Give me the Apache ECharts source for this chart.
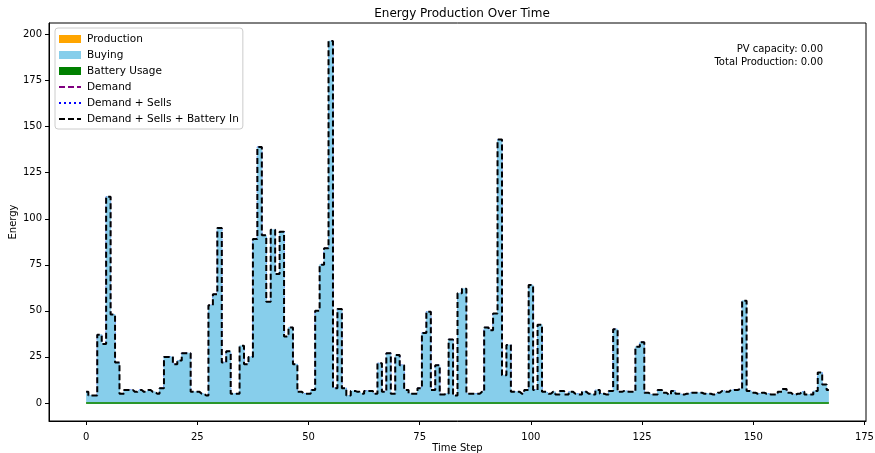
<!DOCTYPE html>
<html>
<head>
<meta charset="utf-8">
<script src="https://cdn.jsdelivr.net/npm/echarts@6/dist/echarts.min.js"></script>
<style>
html,body{margin:0;padding:0;background:#fff;}
#chart{width:875px;height:453px;}
</style>
</head>
<body>
<div id="chart"></div>
<script>
// ---- data ----
const demand = [
  6, 4, 4, 37, 32, 112, 48, 22, 5, 7, 7, 6, 7, 6, 7, 6, 5, 8, 25, 25,
  21, 23, 27, 27, 6, 6, 5, 4, 53, 59, 95, 22, 28, 5, 5, 31, 21, 25, 89, 139,
  91, 55, 94, 70, 93, 36, 41, 21, 6, 5, 5, 7, 50, 75, 84, 196.5, 8, 51, 8, 4,
  6.5, 6, 5, 6.5, 6.5, 5, 21.5, 6, 27, 5, 26, 20.5, 7, 5, 5, 8, 38, 49.5, 7, 20.5,
  4.5, 5, 34.5, 4, 59.5, 62, 5, 5, 5, 6, 41, 39.5, 48.5, 143, 15, 31.5, 6, 6, 5, 7,
  64, 7, 42.5, 6, 5, 6, 4.5, 6.5, 4.5, 6, 5, 4.5, 6, 5, 4.5, 7, 5, 4.5, 6.5, 40,
  6, 6.5, 6, 6, 30.5, 33, 5.5, 4.5, 4.5, 7, 5.5, 4.5, 6.5, 5, 4.5, 5, 5.5, 5.5, 5.5, 5,
  5, 4.5, 5.5, 6.5, 6, 7, 7, 7.5, 55.5, 6.5, 5.5, 5, 5.5, 5, 4.5, 4.5, 6, 7.5, 5.5, 4.5,
  5, 6, 4.5, 4.5, 6.5, 16.5, 10, 7
];
const production = [
  0,0,0,0,0,0,0,0,0,0,0,0,0,0,0,0,0,0,0,0,0,0,0,0,0,0,0,0,
  0,0,0,0,0,0,0,0,0,0,0,0,0,0,0,0,0,0,0,0,0,0,0,0,0,0,0,0,
  0,0,0,0,0,0,0,0,0,0,0,0,0,0,0,0,0,0,0,0,0,0,0,0,0,0,0,0,
  0,0,0,0,0,0,0,0,0,0,0,0,0,0,0,0,0,0,0,0,0,0,0,0,0,0,0,0,
  0,0,0,0,0,0,0,0,0,0,0,0,0,0,0,0,0,0,0,0,0,0,0,0,0,0,0,0,
  0,0,0,0,0,0,0,0,0,0,0,0,0,0,0,0,0,0,0,0,0,0,0,0,0,0,0,0
];
const batteryUsage = [
  0,0,0,0,0,0,0,0,0,0,0,0,0,0,0,0,0,0,0,0,0,0,0,0,0,0,0,0,
  0,0,0,0,0,0,0,0,0,0,0,0,0,0,0,0,0,0,0,0,0,0,0,0,0,0,0,0,
  0,0,0,0,0,0,0,0,0,0,0,0,0,0,0,0,0,0,0,0,0,0,0,0,0,0,0,0,
  0,0,0,0,0,0,0,0,0,0,0,0,0,0,0,0,0,0,0,0,0,0,0,0,0,0,0,0,
  0,0,0,0,0,0,0,0,0,0,0,0,0,0,0,0,0,0,0,0,0,0,0,0,0,0,0,0,
  0,0,0,0,0,0,0,0,0,0,0,0,0,0,0,0,0,0,0,0,0,0,0,0,0,0,0,0
];
const sells = [
  0,0,0,0,0,0,0,0,0,0,0,0,0,0,0,0,0,0,0,0,0,0,0,0,0,0,0,0,
  0,0,0,0,0,0,0,0,0,0,0,0,0,0,0,0,0,0,0,0,0,0,0,0,0,0,0,0,
  0,0,0,0,0,0,0,0,0,0,0,0,0,0,0,0,0,0,0,0,0,0,0,0,0,0,0,0,
  0,0,0,0,0,0,0,0,0,0,0,0,0,0,0,0,0,0,0,0,0,0,0,0,0,0,0,0,
  0,0,0,0,0,0,0,0,0,0,0,0,0,0,0,0,0,0,0,0,0,0,0,0,0,0,0,0,
  0,0,0,0,0,0,0,0,0,0,0,0,0,0,0,0,0,0,0,0,0,0,0,0,0,0,0,0
];
const batteryIn = [
  0,0,0,0,0,0,0,0,0,0,0,0,0,0,0,0,0,0,0,0,0,0,0,0,0,0,0,0,
  0,0,0,0,0,0,0,0,0,0,0,0,0,0,0,0,0,0,0,0,0,0,0,0,0,0,0,0,
  0,0,0,0,0,0,0,0,0,0,0,0,0,0,0,0,0,0,0,0,0,0,0,0,0,0,0,0,
  0,0,0,0,0,0,0,0,0,0,0,0,0,0,0,0,0,0,0,0,0,0,0,0,0,0,0,0,
  0,0,0,0,0,0,0,0,0,0,0,0,0,0,0,0,0,0,0,0,0,0,0,0,0,0,0,0,
  0,0,0,0,0,0,0,0,0,0,0,0,0,0,0,0,0,0,0,0,0,0,0,0,0,0,0,0
];
const pvCapacity = 0;
const xTicks = [0, 25, 50, 75, 100, 125, 150, 175];
const yTicks = [0, 25, 50, 75, 100, 125, 150, 175, 200];

// ---- derived series ----
const buying = demand.map((d, i) => d - production[i] - batteryUsage[i]);
const buyingTop = buying.map((b, i) => b + production[i]);
const demandSells = demand.map((d, i) => d + sells[i]);
const demandSellsBat = demandSells.map((d, i) => d + batteryIn[i]);
const totalProduction = production.reduce((a, b) => a + b, 0);
const pts = arr => arr.map((v, i) => [i, v]);

const xMax = demand.length - 1;
const allVals = demandSellsBat.concat(production, batteryUsage);
const yMaxData = Math.max(...allVals), yMinData = Math.min(...allVals);
const ySpan = yMaxData - yMinData;

const FONT = 'DejaVu Sans';
// legend handle shapes (bounding box fixed to 22x8 by the two leading moves)
const ICON_DASH = 'path://M0,0M22,8M0,3h6v2h-6zM9,3h6v2h-6zM18,3h4v2h-4z';
const ICON_DOT = 'path://M0,0M22,8M0,3h2v2h-2zM5,3h2v2h-2zM10,3h2v2h-2zM15,3h2v2h-2zM20,3h2v2h-2z';

const chart = echarts.init(document.getElementById('chart'), null, {renderer: 'canvas'});

chart.setOption({
  animation: false,
  backgroundColor: '#ffffff',
  title: {
    text: 'Energy Production Over Time',
    left: 457, top: 3, textAlign: 'center',
    textStyle: {fontFamily: FONT, fontSize: 12, fontWeight: 'normal', color: '#000'}
  },
  grid: {
    left: 49, right: 9, top: 23, bottom: 32,
    outerBoundsMode: 'none', containLabel: false,
    show: true, borderColor: '#000', borderWidth: 1, backgroundColor: 'transparent'
  },
  legend: {
    orient: 'vertical', left: 55, top: 28,
    padding: [5, 4, 4, 4],
    itemWidth: 22, itemHeight: 8, itemGap: 4,
    backgroundColor: 'rgba(255,255,255,0.8)',
    borderColor: '#cccccc', borderWidth: 1, borderRadius: 3,
    textStyle: {fontFamily: FONT, fontSize: 10.5, color: '#000', lineHeight: 12, padding: [0, 0, 0, 1]},
    data: [
      {name: 'Production', icon: 'rect'},
      {name: 'Buying', icon: 'rect'},
      {name: 'Battery Usage', icon: 'rect'},
      {name: 'Demand', icon: ICON_DASH},
      {name: 'Demand + Sells', icon: ICON_DOT},
      {name: 'Demand + Sells + Battery In', icon: ICON_DASH}
    ]
  },
  xAxis: {
    type: 'value',
    min: -0.05 * xMax, max: 1.05 * xMax,
    name: 'Time Step', nameLocation: 'middle', nameGap: 22, nameMoveOverlap: false,
    nameTextStyle: {fontFamily: FONT, fontSize: 10, color: '#000'},
    axisLine: {show: true, onZero: false, lineStyle: {color: '#000', width: 1}},
    axisTick: {show: true, inside: false, length: 4, customValues: xTicks, lineStyle: {color: '#000'}},
    axisLabel: {customValues: xTicks, margin: 11, fontFamily: FONT, fontSize: 10, color: '#000'},
    splitLine: {show: false}
  },
  yAxis: {
    type: 'value',
    min: yMinData - 0.05 * ySpan, max: yMaxData + 0.05 * ySpan,
    name: 'Energy', nameLocation: 'middle', nameGap: 31, nameRotate: 90, nameMoveOverlap: false,
    nameTextStyle: {fontFamily: FONT, fontSize: 10, color: '#000'},
    axisLine: {show: true, onZero: false, lineStyle: {color: '#000', width: 1}},
    axisTick: {show: true, inside: false, length: 4, customValues: yTicks, lineStyle: {color: '#000'}},
    axisLabel: {customValues: yTicks, margin: 7, fontFamily: FONT, fontSize: 10, color: '#000'},
    splitLine: {show: false}
  },
  graphic: [
    {
      type: 'text', right: 52, top: 44,
      style: {text: 'PV capacity: ' + pvCapacity.toFixed(2), fontFamily: FONT, fontSize: 10, fill: '#000'}
    },
    {
      type: 'text', right: 52, top: 57,
      style: {text: 'Total Production: ' + totalProduction.toFixed(2), fontFamily: FONT, fontSize: 10, fill: '#000'}
    }
  ],
  series: [
    {
      name: 'Production', type: 'line', step: 'middle',
      data: pts(production), showSymbol: false, symbol: 'none',
      itemStyle: {color: '#FFA500'},
      lineStyle: {color: '#FFA500', width: 1},
      areaStyle: {color: '#FFA500', opacity: 1}, z: 1
    },
    {
      name: 'Buying', type: 'line', step: 'middle',
      data: pts(buyingTop), showSymbol: false, symbol: 'none',
      itemStyle: {color: '#87CEEB'},
      lineStyle: {color: '#87CEEB', width: 0.8},
      areaStyle: {color: '#87CEEB', opacity: 1}, z: 1
    },
    {
      name: 'Battery Usage', type: 'line', step: 'middle',
      data: pts(batteryUsage), showSymbol: false, symbol: 'none',
      itemStyle: {color: '#008000'},
      lineStyle: {color: '#2a962a', width: 2},
      z: 2
    },
    {
      name: 'Demand', type: 'line', step: 'middle',
      data: pts(demand), showSymbol: false, symbol: 'none',
      itemStyle: {color: '#800080'},
      lineStyle: {color: '#800080', width: 1, type: [6, 3]},
      z: 0
    },
    {
      name: 'Demand + Sells', type: 'line', step: 'middle',
      data: pts(demandSells), showSymbol: false, symbol: 'none',
      itemStyle: {color: '#0000FF'},
      lineStyle: {color: '#0000FF', width: 1, type: [2, 3]},
      z: 0
    },
    {
      name: 'Demand + Sells + Battery In', type: 'line', step: 'middle',
      data: pts(demandSellsBat), showSymbol: false, symbol: 'none',
      itemStyle: {color: '#000000'},
      lineStyle: {color: '#000000', width: 2, type: [6, 3]},
      z: 5
    }
  ]
});
</script>
</body>
</html>
